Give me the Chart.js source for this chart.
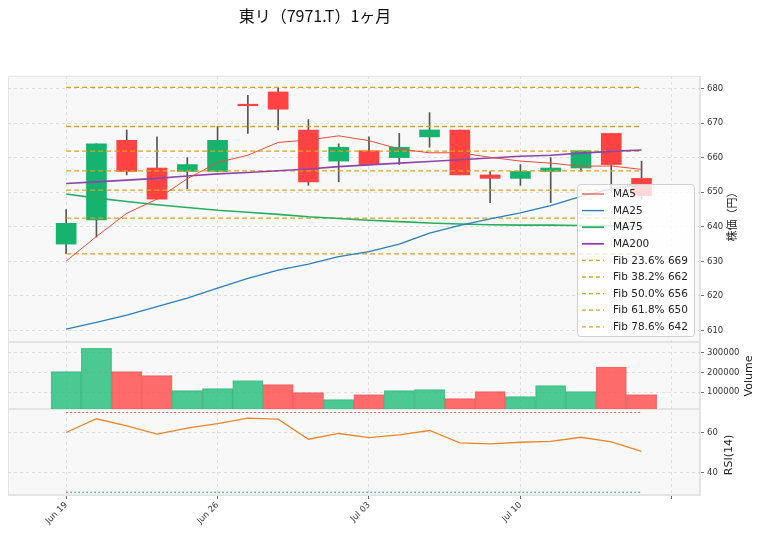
<!DOCTYPE html>
<html>
<head>
<meta charset="utf-8">
<title>東リ（7971.T）1ヶ月</title>
<script src="https://cdn.jsdelivr.net/npm/chart.js@4.4.0/dist/chart.umd.min.js"></script>
<style>
  html, body { margin: 0; padding: 0; background: #fff; }
  canvas { display: block; }
</style>
</head>
<body>
<canvas id="chart" width="764" height="537"></canvas>
<script>
// Data
const TITLE = '東リ（7971.T）1ヶ月';
const TICK_POS = [0, 5, 10, 15, 20];
const TICK_LABELS = ['Jun 19', 'Jun 26', 'Jul 03', 'Jul 10', ''];

const OPEN  = [635, 642, 665, 657, 656, 656, 675, 679, 668, 659, 662, 660, 666, 668, 655, 654, 656, 657, 667, 654];
const CLOSE = [641, 664, 656, 648, 658, 665, 675, 674, 653, 663, 658, 663, 668, 655, 654, 656, 657, 662, 658, 649];
const HIGH  = [645, 664, 668, 666, 660, 669, 678, 680.3, 671, 664, 666, 667, 673, 668, 656, 658, 660, 662, 667, 659];
const LOW   = [632.2, 637, 655, 648, 651, 656, 667, 668, 652, 653, 658, 658, 663, 655, 647, 652, 647, 656, 650, 648];

const VOLUME = [205000, 323000, 205000, 185000, 109000, 119000, 159000, 139000, 98500, 63000,
                88000, 109000, 114000, 68000, 104000, 78500, 134000, 104000, 228000, 88000];

const MA5   = [630.1, 637.2, 643.9, 648.0, 653.9, 658.6, 660.7, 664.4, 665.1, 666.3,
               664.9, 662.5, 661.4, 661.4, 660.1, 659.0, 658.4, 657.5, 657.6, 656.6];
const MA25  = [610.4, 612.4, 614.5, 616.9, 619.4, 622.3, 625.1, 627.5, 629.2, 631.4,
               632.8, 635.0, 638.2, 640.4, 642.3, 644.0, 646.1, 648.8, 651.0, 652.3];
const MA75  = [649.5, 648.3, 647.3, 646.4, 645.6, 644.8, 644.2, 643.6, 642.9, 642.4,
               641.9, 641.5, 641.1, 640.8, 640.6, 640.5, 640.5, 640.4, 640.3, 640.2];
const MA200 = [652.5, 653.0, 653.5, 654.0, 654.7, 655.3, 655.7, 656.2, 656.7, 657.4,
               657.9, 658.4, 658.9, 659.4, 659.9, 660.4, 660.7, 661.3, 661.8, 662.2];

const RSI = [60.0, 66.9, 63.3, 59.2, 62.2, 64.4, 67.2, 66.7, 56.6, 59.5,
             57.4, 58.8, 61.0, 54.8, 54.3, 55.1, 55.5, 57.6, 55.3, 50.5];
const RSI_BANDS = [70, 30];

const FIB_LEVELS = [680.3, 669.0, 661.9, 656.2, 650.6, 642.5, 632.2];
const FIB_NAMES  = ['', 'Fib 23.6% 669', 'Fib 38.2% 662', 'Fib 50.0% 656', 'Fib 61.8% 650', 'Fib 78.6% 642', ''];

const PRICE_TICKS = [610, 620, 630, 640, 650, 660, 670, 680];
const VOLUME_TICKS = [100000, 200000, 300000];
const RSI_TICKS = [40, 60];

// colours
const UP = '#16b36e', DOWN = '#ff4242';
const VOL_UP = 'rgba(38,190,125,0.82)', VOL_DOWN = 'rgba(255,82,82,0.85)';
const MA_COLORS = ['#e74c3c', '#2a7fba', '#27ae60', '#8e44ad'];
const FIB_COLOR = '#d9a21b';
const GRID = '#d9d9d9';

const idx = OPEN.map((_, i) => i);
const lastX = idx.length - 1;
const xy = arr => arr.map((v, i) => ({x: i, y: v}));
const flat = v => [{x: 0, y: v}, {x: lastX, y: v}];

const datasets = [];

FIB_LEVELS.forEach((lvl, i) => {
    datasets.push({
        type: 'line', label: FIB_NAMES[i], data: flat(lvl), yAxisID: 'yP',
        borderColor: FIB_COLOR, borderWidth: 1.3, borderDash: [5, 3],
        pointRadius: 0, order: 4
    });
});

datasets.push({
    type: 'bar', label: 'wick', yAxisID: 'yP', order: 7, grouped: false,
    data: idx.map(i => ({x: i, y: [LOW[i], HIGH[i]]})),
    backgroundColor: '#555', barThickness: 1
});
datasets.push({
    type: 'bar', label: 'body', yAxisID: 'yP', order: 6, grouped: false,
    data: idx.map(i => ({x: i, y: [OPEN[i], CLOSE[i]]})),
    backgroundColor: idx.map(i => CLOSE[i] > OPEN[i] ? UP : DOWN),
    barThickness: 20, minBarLength: 1.5
});

[['MA5', MA5, 1], ['MA25', MA25, 1.3], ['MA75', MA75, 1.6], ['MA200', MA200, 1.6]].forEach((m, i) => {
    datasets.push({
        type: 'line', label: m[0], data: xy(m[1]), yAxisID: 'yP',
        borderColor: MA_COLORS[i], borderWidth: m[2], pointRadius: 0, order: 1
    });
});

datasets.push({
    type: 'bar', label: 'Volume', yAxisID: 'yV', order: 2, grouped: false,
    data: xy(VOLUME),
    backgroundColor: idx.map(i => CLOSE[i] >= OPEN[i] ? VOL_UP : VOL_DOWN),
    borderColor: idx.map(i => CLOSE[i] >= OPEN[i] ? 'rgba(30,160,100,0.6)' : 'rgba(220,60,60,0.6)'),
    borderWidth: 0.6, barPercentage: 1, categoryPercentage: 1
});

datasets.push({
    type: 'line', label: 'RSI', data: xy(RSI), yAxisID: 'yR',
    borderColor: '#e8872a', borderWidth: 1.3, pointRadius: 0, order: 1
});
RSI_BANDS.forEach((b, i) => {
    datasets.push({
        type: 'line', label: 'band' + b, data: flat(b), yAxisID: 'yR',
        borderColor: i === 0 ? '#d9534f' : '#2a7fba', borderWidth: 0.9, borderDash: [2, 2],
        pointRadius: 0, order: 3
    });
});

const tickFont = {family: 'DejaVu Sans', size: 8.5};

function yAxis(weight, min, max, ticks, fmt) {
    return {
        type: 'linear', position: 'right', stack: 'panes', stackWeight: weight,
        min: min, max: max,
        afterBuildTicks: s => { s.ticks = ticks.map(v => ({value: v})); },
        afterFit: s => { s.width = 64; },
        ticks: {font: tickFont, color: '#333', padding: 3, callback: fmt || (v => String(v))},
        grid: {color: GRID, lineWidth: 0.8, tickColor: '#444', tickLength: 4, tickBorderDash: []},
        border: {color: '#e4e4e4', dash: [3, 3]}
    };
}

// panel backgrounds and frames
const panes = {
    id: 'panes',
    beforeDraw(chart) {
        const ctx = chart.ctx, a = chart.chartArea;
        ctx.save();
        ['yP', 'yV', 'yR'].forEach(id => {
            const s = chart.scales[id];
            ctx.fillStyle = '#f8f8f8';
            ctx.fillRect(a.left, s.top, a.right - a.left, s.bottom - s.top);
            ctx.strokeStyle = '#e4e4e4';
            ctx.lineWidth = 1;
            ctx.strokeRect(a.left + 0.5, s.top + 0.5, a.right - a.left - 1, s.bottom - s.top - 1);
        });
        ctx.restore();
    }
};

// title, axis titles and the legend box
const overlay = {
    id: 'overlay',
    afterDraw(chart) {
        const ctx = chart.ctx;
        ctx.save();
        ctx.fillStyle = '#111';
        ctx.font = '16px "Noto Sans CJK JP"';
        ctx.textAlign = 'center';
        ctx.textBaseline = 'middle';
        ctx.fillText(TITLE, 315, 16);

        const side = [['株価（円）', 732, 214, 'Noto Sans CJK JP'], ['Volume', 749, 376, 'DejaVu Sans'], ['RSI(14)', 729, 455, 'DejaVu Sans']];
        side.forEach(t => {
            ctx.save();
            ctx.translate(t[1], t[2]);
            ctx.rotate(-Math.PI / 2);
            ctx.font = '11px "' + t[3] + '"';
            ctx.fillStyle = '#222';
            ctx.fillText(t[0], 0, 0);
            ctx.restore();
        });

        // legend
        const items = [
            ['MA5', MA_COLORS[0], 1.2, []], ['MA25', MA_COLORS[1], 1.4, []],
            ['MA75', MA_COLORS[2], 1.8, []], ['MA200', MA_COLORS[3], 1.8, []]
        ];
        FIB_NAMES.filter(n => n).forEach(n => items.push([n, FIB_COLOR, 1.3, [4, 3]]));
        const bx = 577, by = 184, bw = 117, bh = 152;
        ctx.fillStyle = 'rgba(255,255,255,0.8)';
        ctx.strokeStyle = '#d0d0d0';
        ctx.lineWidth = 1;
        ctx.beginPath();
        ctx.roundRect(bx + 0.5, by + 0.5, bw, bh, 3);
        ctx.fill();
        ctx.stroke();
        ctx.font = '10.5px "DejaVu Sans"';
        ctx.textAlign = 'left';
        items.forEach((it, i) => {
            const y = 194 + i * 16.6;
            ctx.strokeStyle = it[1];
            ctx.lineWidth = it[2];
            ctx.setLineDash(it[3]);
            ctx.beginPath();
            ctx.moveTo(582, y);
            ctx.lineTo(604, y);
            ctx.stroke();
            ctx.setLineDash([]);
            ctx.fillStyle = '#222';
            ctx.fillText(it[0], 613, y + 0.5);
        });
        ctx.restore();
    }
};

new Chart(document.getElementById('chart'), {
    data: {datasets: datasets},
    options: {
        responsive: false,
        animation: false,
        devicePixelRatio: 1,
        layout: {padding: {left: 8, top: 76, right: 0, bottom: 0}},
        plugins: {legend: {display: false}, tooltip: {enabled: false}, title: {display: false}},
        scales: {
            x: {
                type: 'linear', position: 'bottom', min: -1.92, max: 20.93, offset: false,
                afterBuildTicks: s => { s.ticks = TICK_POS.map(v => ({value: v})); },
                afterFit: s => { s.height = 42; },
                ticks: {
                    font: {family: 'DejaVu Sans', size: 8.5}, color: '#333', autoSkip: false,
                    minRotation: 45, maxRotation: 45, padding: 1,
                    callback: v => TICK_LABELS[TICK_POS.indexOf(v)]
                },
                grid: {offset: false, color: GRID, lineWidth: 0.8, tickColor: '#444', tickLength: 4, tickBorderDash: []},
                border: {color: '#e4e4e4', dash: [3, 3]}
            },
            yP: yAxis(266, 606.7, 683.6, PRICE_TICKS),
            yV: yAxis(67, 15000, 355000, VOLUME_TICKS),
            yR: yAxis(86, 28.6, 71.8, RSI_TICKS)
        }
    },
    plugins: [panes, overlay]
});
</script>
</body>
</html>
